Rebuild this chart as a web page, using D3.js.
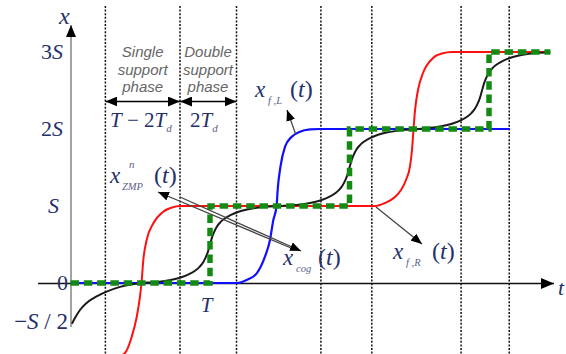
<!DOCTYPE html>
<html>
<head>
<meta charset="utf-8">
<script src="https://cdn.jsdelivr.net/npm/d3@7"></script>
<style>
  html, body { margin: 0; padding: 0; background: #fff; }
  svg { display: block; }
</style>
</head>
<body>
<svg id="chart" width="566" height="354"></svg>
<script>
// Time is measured in step periods T, position in step lengths S.

// Boundaries between single and double support phases
const phaseLines = [0.25, 0.785, 1.19, 1.795, 2.16, 2.8, 3.145];

// Position labels on the x axis
const levelValues = [3, 2, 1, 0, -0.5];
const levelLabels = [
  [["3", false], ["S", true]],
  [["2", false], ["S", true]],
  [["S", true]],
  [["0", false]],
  [["\u2212", false], ["S", true], [" / 2", false]]
];

// Right foot x_f,R(t)
const footRightT = [0.226, 0.297, 0.355, 0.391, 0.439, 0.475, 0.498, 0.509, 0.522, 0.546, 0.594, 0.665, 0.728, 0.785,
                    2.183, 2.254, 2.326, 2.369, 2.405, 2.434, 2.448, 2.459, 2.470, 2.491, 2.527, 2.599, 2.663, 2.735, 3.437];
const footRightX = [-1.0, -0.974, -0.948, -0.909, -0.697, -0.438, -0.178, 0.0, 0.299, 0.558, 0.775, 0.926, 0.981, 1.0,
                    1.0, 1.039, 1.117, 1.208, 1.338, 1.519, 1.727, 2.0, 2.247, 2.506, 2.727, 2.922, 2.981, 3.0, 3.0];

// Left foot x_f,L(t)
const footLeftT = [0.0, 1.194, 1.263, 1.335, 1.394, 1.430, 1.454, 1.477, 1.487, 1.505, 1.538, 1.586, 1.645, 1.717, 1.789, 3.151];
const footLeftX = [0.0, 0.0, 0.039, 0.126, 0.342, 0.558, 0.818, 1.0, 1.251, 1.510, 1.770, 1.900, 1.965, 1.994, 2.0, 2.0];

// Centre of gravity x_cog(t)
const cogT = [0.01, 0.032, 0.068, 0.111, 0.163, 0.259, 0.355, 0.43, 0.5,
              0.6, 0.675, 0.75, 0.8, 0.85, 0.9, 0.925, 0.95, 0.97, 0.985, 1.0, 1.015, 1.03, 1.05, 1.075, 1.1, 1.15, 1.2, 1.25, 1.325, 1.4, 1.5,
              1.6, 1.675, 1.75, 1.8, 1.85, 1.9, 1.925, 1.95, 1.97, 1.985, 2.0, 2.015, 2.03, 2.05, 2.075, 2.1, 2.15, 2.2, 2.25, 2.325, 2.4, 2.5,
              2.55, 2.625, 2.7, 2.75, 2.8, 2.85, 2.875, 2.9, 2.92, 2.935, 2.95, 2.965, 2.98, 3.0, 3.025, 3.05, 3.1, 3.15, 3.2, 3.275, 3.35, 3.44];
const cogX = [-0.53, -0.455, -0.351, -0.266, -0.199, -0.113, -0.05, -0.02, 0.0,
              0.011, 0.0275, 0.0525, 0.0775, 0.115, 0.17, 0.21, 0.265, 0.335, 0.405, 0.5, 0.595, 0.665, 0.735, 0.79, 0.83, 0.885, 0.9225, 0.9475, 0.9725, 0.989, 1.0,
              1.011, 1.0275, 1.0525, 1.0775, 1.115, 1.17, 1.21, 1.265, 1.335, 1.405, 1.5, 1.595, 1.665, 1.735, 1.79, 1.83, 1.885, 1.9225, 1.9475, 1.9725, 1.989, 2.0,
              2.011, 2.0275, 2.0525, 2.0775, 2.115, 2.17, 2.21, 2.265, 2.335, 2.405, 2.5, 2.595, 2.665, 2.735, 2.79, 2.83, 2.885, 2.9225, 2.9475, 2.9725, 2.989, 2.998];

// Nominal ZMP x^n_ZMP(t): piecewise constant, steps at t = 1, 2, 3
const zmpT = [0, 1, 2, 3, 3.44];
const zmpX = [0, 1, 2, 3, 3];

const svg = d3.select("#chart");
const x = d3.scaleLinear().domain([0, 1]).range([70.5, 210]);
const y = d3.scaleLinear().domain([0, 3]).range([283, 52]);

const serif = "'Liberation Serif', 'Times New Roman', serif";
const sans = "'Liberation Sans', Arial, sans-serif";
const mathInk = "#24306a";
const subInk = "#5a6388";

// arrowheads
const defs = svg.append("defs");
function addMarker(id, len, wid) {
  defs.append("marker")
    .attr("id", id)
    .attr("viewBox", "0 0 10 10")
    .attr("refX", 10).attr("refY", 5)
    .attr("markerUnits", "userSpaceOnUse")
    .attr("markerWidth", len).attr("markerHeight", wid)
    .attr("orient", "auto-start-reverse")
    .attr("preserveAspectRatio", "none")
    .append("path")
    .attr("d", "M0,0 L10,5 L0,10 Z")
    .attr("fill", "#000");
}
addMarker("headBig", 13, 11);
addMarker("headMid", 12, 10);
addMarker("headSmall", 11, 9);

// phase boundaries
svg.append("g").selectAll("line").data(phaseLines).join("line")
  .attr("x1", d => x(d)).attr("x2", d => x(d))
  .attr("y1", 6).attr("y2", 354)
  .attr("stroke", "#111").attr("stroke-width", 1.5)
  .attr("stroke-dasharray", "2,1.6");

// axes
svg.append("line")
  .attr("x1", 71).attr("x2", 71)
  .attr("y1", 327).attr("y2", 25)
  .attr("stroke", "#8c8c8c").attr("stroke-width", 1.6)
  .attr("marker-end", "url(#headMid)");
svg.append("line")
  .attr("x1", 38).attr("x2", 554)
  .attr("y1", y(0) + 0.5).attr("y2", y(0) + 0.5)
  .attr("stroke", "#111").attr("stroke-width", 1.6)
  .attr("marker-end", "url(#headBig)");

// mixed italic / upright text helper
function mathText(px, py, parts, size, anchor) {
  const t = svg.append("text")
    .attr("x", px).attr("y", py)
    .attr("font-family", serif)
    .attr("font-size", size)
    .attr("fill", mathInk)
    .attr("text-anchor", anchor || "start");
  parts.forEach(([s, it]) => {
    t.append("tspan").attr("font-style", it ? "italic" : "normal").text(s);
  });
  return t;
}

// level labels
levelValues.forEach((v, i) => {
  const endX = v === 0 || v < 0 ? 68 : (v === 1 ? 59 : 63);
  mathText(endX, y(v) + 7, levelLabels[i], v < 0 ? 23 : 22, "end");
});
mathText(59, 24, [["x", true]], 24, "start");
mathText(558, 295, [["t", true]], 22, "start");
mathText(x(1) - 3.5, 312, [["T", true]], 21, "middle");

// curves
const line = d3.line().x(d => x(d[0])).y(d => y(d[1])).curve(d3.curveMonotoneX);
const zip = (a, b) => a.map((v, i) => [v, b[i]]);

svg.append("path").datum(zip(footRightT, footRightX))
  .attr("d", line).attr("fill", "none").attr("stroke", "#ff1010").attr("stroke-width", 2);
svg.append("path").datum(zip(footLeftT, footLeftX))
  .attr("d", line).attr("fill", "none").attr("stroke", "#1010ff").attr("stroke-width", 2.2);
svg.append("path").datum(zip(cogT, cogX))
  .attr("d", line).attr("fill", "none").attr("stroke", "#1a1a1a").attr("stroke-width", 2);

const stepLine = d3.line().x(d => x(d[0])).y(d => y(d[1])).curve(d3.curveStepAfter);
svg.append("path").datum(zip(zmpT, zmpX))
  .attr("d", stepLine).attr("fill", "none")
  .attr("stroke", "#138a13").attr("stroke-width", 5.5)
  .attr("stroke-dasharray", "8.5,4.8");

// phase duration arrows
const arrowY = 101.5;
[[phaseLines[0], phaseLines[1]], [phaseLines[1], phaseLines[2]]].forEach(([a, b]) => {
  svg.append("line")
    .attr("x1", x(a)).attr("x2", x(b))
    .attr("y1", arrowY).attr("y2", arrowY)
    .attr("stroke", "#000").attr("stroke-width", 1.6)
    .attr("marker-start", "url(#headMid)")
    .attr("marker-end", "url(#headMid)");
});

// phase names
function phaseName(cx, lines) {
  lines.forEach((s, i) => {
    svg.append("text")
      .attr("x", cx).attr("y", 57 + i * 17.5)
      .attr("text-anchor", "middle")
      .attr("font-family", sans)
      .attr("font-style", "italic")
      .attr("font-size", 15)
      .attr("fill", "#666")
      .text(s);
  });
}
phaseName((x(phaseLines[0]) + x(phaseLines[1])) / 2, ["Single", "support", "phase"]);
phaseName(208, ["Double", "support", "phase"]);

// phase durations
const d1 = svg.append("text").attr("x", 110).attr("y", 127)
  .attr("font-family", serif).attr("font-size", 21).attr("fill", mathInk);
d1.append("tspan").attr("font-style", "italic").text("T");
d1.append("tspan").text(" \u2212 2");
d1.append("tspan").attr("font-style", "italic").text("T");
d1.append("tspan").attr("font-style", "italic").attr("font-size", 11).attr("dy", 5).attr("fill", subInk).text("d");

const d2 = svg.append("text").attr("x", 190).attr("y", 127)
  .attr("font-family", serif).attr("font-size", 21).attr("fill", mathInk);
d2.append("tspan").text("2");
d2.append("tspan").attr("font-style", "italic").text("T");
d2.append("tspan").attr("font-style", "italic").attr("font-size", 11).attr("dy", 5).attr("fill", subInk).text("d");

// curve names: x, subscript, (t)
function curveName(px, py, sub, subX, parenX, sup) {
  svg.append("text").attr("x", px).attr("y", py)
    .attr("font-family", serif).attr("font-style", "italic")
    .attr("font-size", 23).attr("fill", mathInk).text("x");
  svg.append("text").attr("x", subX).attr("y", py + 7)
    .attr("font-family", serif).attr("font-style", "italic")
    .attr("font-size", 10.5).attr("fill", subInk).text(sub);
  if (sup) {
    svg.append("text").attr("x", px + 19).attr("y", py - 15)
      .attr("font-family", serif).attr("font-style", "italic")
      .attr("font-size", 11).attr("fill", subInk).text(sup);
  }
  const p = svg.append("text").attr("x", parenX).attr("y", py)
    .attr("font-family", serif).attr("font-size", 24).attr("fill", mathInk);
  p.append("tspan").text("(");
  p.append("tspan").attr("font-style", "italic").text("t");
  p.append("tspan").text(")");
}
curveName(255, 97, "f ,L", 268, 290);
curveName(110, 183, "ZMP", 122, 154, "n");
curveName(283, 265, "cog", 296, 318);
curveName(393, 259, "f ,R", 406, 432);

// pointers from curves to their names
function pointer(x1, y1, x2, y2) {
  svg.append("line")
    .attr("x1", x1).attr("y1", y1).attr("x2", x2).attr("y2", y2)
    .attr("stroke", "#444").attr("stroke-width", 1.3)
    .attr("marker-end", "url(#headSmall)");
}
pointer(x(1.615), y(1.93), 287, 110);
pointer(x(2.19), y(1.0) + 1, 422, 244);
pointer(291, 248, 158, 192);
pointer(180, 197, 301, 251);
</script>
</body>
</html>
